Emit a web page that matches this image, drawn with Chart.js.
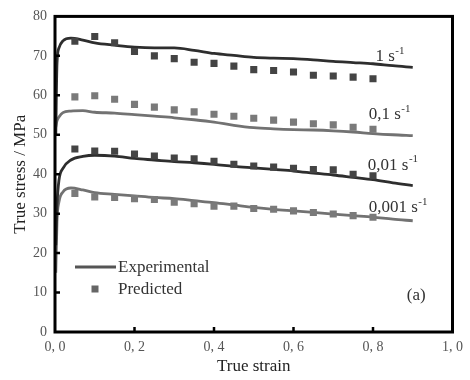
<!DOCTYPE html>
<html>
<head>
<meta charset="utf-8">
<script src="https://cdn.jsdelivr.net/npm/chart.js@4.4.1/dist/chart.umd.min.js"></script>
<style>
  html, body { margin: 0; padding: 0; background: #fff; }
  #wrap { width: 470px; height: 380px; }
</style>
</head>
<body>
<div id="wrap"><canvas id="chart" width="470" height="380"></canvas></div>
<script>
// -----------------------------
// Données
// -----------------------------
const xTicks = [0, 0.2, 0.4, 0.6, 0.8, 1.0];
const yTicks = [0, 10, 20, 30, 40, 50, 60, 70, 80];

const rateLabels = ["1", "0,1", "0,01", "0,001"];

const expStrain = [0.002, 0.005, 0.01, 0.02, 0.04, 0.07, 0.1, 0.15, 0.2, 0.25, 0.3, 0.35,
                   0.4, 0.45, 0.5, 0.55, 0.6, 0.65, 0.7, 0.75, 0.8, 0.85, 0.9];
const exp1    = [50, 68, 72, 73.8, 74.5, 74.0, 73.3, 72.7, 72.2, 72.0, 72.0, 71.4,
                 70.6, 70.1, 69.6, 69.4, 69.3, 69.0, 68.6, 68.3, 68.0, 67.5, 67.1];
const exp01   = [52, 53.5, 54.5, 55.6, 56.0, 56.1, 55.7, 55.5, 55.1, 54.7, 54.3, 53.8,
                 53.2, 52.4, 51.8, 51.5, 51.3, 51.2, 51.0, 50.7, 50.3, 50.0, 49.8];
const exp001  = [22, 32, 38.5, 41.5, 43.6, 44.5, 44.8, 44.6, 44.0, 43.6, 43.2, 42.9,
                 42.5, 42.0, 41.6, 41.2, 40.8, 40.3, 39.8, 39.2, 38.6, 37.8, 37.1];
const exp0001 = [15, 28, 33, 35.5, 36.5, 36.0, 35.3, 34.9, 34.5, 34.1, 33.8, 33.3,
                 32.8, 32.2, 31.6, 31.1, 30.7, 30.3, 29.9, 29.5, 29.1, 28.6, 28.2];

const predStrain = [0.05, 0.1, 0.15, 0.2, 0.25, 0.3, 0.35, 0.4,
                    0.45, 0.5, 0.55, 0.6, 0.65, 0.7, 0.75, 0.8];
const pred1    = [73.7, 74.9, 73.3, 71.1, 70.0, 69.3, 68.4, 68.1,
                  67.4, 66.5, 66.3, 65.9, 65.1, 64.9, 64.6, 64.2];
const pred01   = [59.6, 59.9, 59.0, 57.7, 57.0, 56.3, 55.8, 55.2,
                  54.7, 54.2, 53.7, 53.2, 52.8, 52.5, 51.9, 51.4];
const pred001  = [46.4, 45.9, 45.8, 45.1, 44.6, 44.1, 43.9, 43.3,
                  42.5, 42.1, 41.8, 41.5, 41.2, 41.1, 40.0, 39.6];
const pred0001 = [35.1, 34.2, 34.1, 33.8, 33.6, 32.9, 32.5, 31.9,
                  31.9, 31.3, 31.1, 30.7, 30.3, 29.9, 29.5, 29.1];

// -----------------------------
// Styles
// -----------------------------
const SERIF = "'Liberation Serif', 'DejaVu Serif', serif";
const DARK_LINE = "#2e2e2e";
const LIGHT_LINE = "#727272";
const DARK_PT = "#444444";
const LIGHT_PT = "#7a7a7a";

function toXY(xs, ys) {
    return xs.map((x, i) => ({ x: x, y: ys[i] }));
}

function expSet(ys, color) {
    return {
        data: toXY(expStrain, ys),
        showLine: true,
        borderColor: color,
        borderWidth: 2.8,
        pointRadius: 0,
        cubicInterpolationMode: "monotone",
        order: 2
    };
}

function predSet(ys, color) {
    return {
        data: toXY(predStrain, ys),
        showLine: false,
        pointStyle: "rect",
        pointRadius: 5,
        pointBackgroundColor: color,
        pointBorderWidth: 0,
        order: 1
    };
}

// -----------------------------
// Plugin : cadre, ticks internes, étiquettes, légende
// -----------------------------
const decorPlugin = {
    id: "decor",
    afterDraw(chart) {
        const { ctx, chartArea: a, scales } = chart;
        const sx = scales.x, sy = scales.y;
        ctx.save();

        // cadre
        ctx.strokeStyle = "#000";
        ctx.lineWidth = 3;
        ctx.strokeRect(a.left, a.top, a.right - a.left, a.bottom - a.top);

        // ticks vers l'intérieur
        ctx.lineWidth = 2.5;
        ctx.beginPath();
        yTicks.slice(1, -1).forEach(v => {
            const py = sy.getPixelForValue(v);
            ctx.moveTo(a.left, py);
            ctx.lineTo(a.left + 5, py);
        });
        xTicks.slice(1, -1).forEach(v => {
            const px = sx.getPixelForValue(v);
            ctx.moveTo(px, a.bottom);
            ctx.lineTo(px, a.bottom - 5);
        });
        ctx.stroke();

        // étiquettes des vitesses
        const labelPos = [[0.806, 69.8], [0.789, 55.0], [0.787, 42.2], [0.789, 31.5]];
        ctx.fillStyle = "#333";
        ctx.textBaseline = "middle";
        rateLabels.forEach((txt, i) => {
            const px = sx.getPixelForValue(labelPos[i][0]);
            const py = sy.getPixelForValue(labelPos[i][1]);
            const main = txt + " s";
            ctx.font = "17px " + SERIF;
            ctx.textAlign = "left";
            ctx.fillText(main, px, py);
            const w = ctx.measureText(main).width;
            ctx.font = "11px " + SERIF;
            ctx.fillText("-1", px + w + 0.5, py - 6);
        });

        // (a)
        ctx.font = "17px " + SERIF;
        ctx.fillText("(a)", sx.getPixelForValue(0.885), sy.getPixelForValue(9.3));

        // légende
        ctx.strokeStyle = "#555";
        ctx.lineWidth = 2.8;
        ctx.beginPath();
        ctx.moveTo(75, 267);
        ctx.lineTo(116, 267);
        ctx.stroke();
        ctx.fillStyle = "#666";
        ctx.fillRect(91.5, 285.5, 7, 7);
        ctx.fillStyle = "#333";
        ctx.font = "17px " + SERIF;
        ctx.fillText("Experimental", 118, 268);
        ctx.fillText("Predicted", 118, 290);

        ctx.restore();
    }
};

new Chart(document.getElementById("chart"), {
    type: "scatter",
    data: {
        datasets: [
            expSet(exp1, DARK_LINE),
            expSet(exp01, LIGHT_LINE),
            expSet(exp001, DARK_LINE),
            expSet(exp0001, LIGHT_LINE),
            predSet(pred1, DARK_PT),
            predSet(pred01, LIGHT_PT),
            predSet(pred001, DARK_PT),
            predSet(pred0001, LIGHT_PT)
        ]
    },
    options: {
        responsive: false,
        animation: false,
        layout: { padding: { top: 8, right: 12, left: 0, bottom: 0 } },
        plugins: {
            legend: { display: false },
            tooltip: { enabled: false }
        },
        scales: {
            x: {
                type: "linear",
                min: 0, max: 1,
                afterBuildTicks: s => { s.ticks = xTicks.map(v => ({ value: v })); },
                afterFit: s => { s.height = 48; },
                grid: { display: false, drawTicks: false },
                border: { display: false },
                ticks: {
                    padding: 7,
                    color: "#555",
                    font: { family: SERIF, size: 14 },
                    callback: v => v.toFixed(1).replace(".", ", ")
                },
                title: {
                    display: true,
                    text: "True strain",
                    color: "#222",
                    font: { family: SERIF, size: 17 },
                    padding: { top: 0, bottom: 3 }
                }
            },
            y: {
                type: "linear",
                min: 0, max: 80,
                afterBuildTicks: s => { s.ticks = yTicks.map(v => ({ value: v })); },
                afterFit: s => { s.width = 55; },
                grid: { display: false, drawTicks: false },
                border: { display: false },
                ticks: {
                    padding: 8,
                    color: "#555",
                    font: { family: SERIF, size: 14 }
                },
                title: {
                    display: true,
                    text: "True stress / MPa",
                    color: "#222",
                    font: { family: SERIF, size: 17 },
                    padding: { top: 10, bottom: 0 }
                }
            }
        }
    },
    plugins: [decorPlugin]
});
</script>
</body>
</html>
